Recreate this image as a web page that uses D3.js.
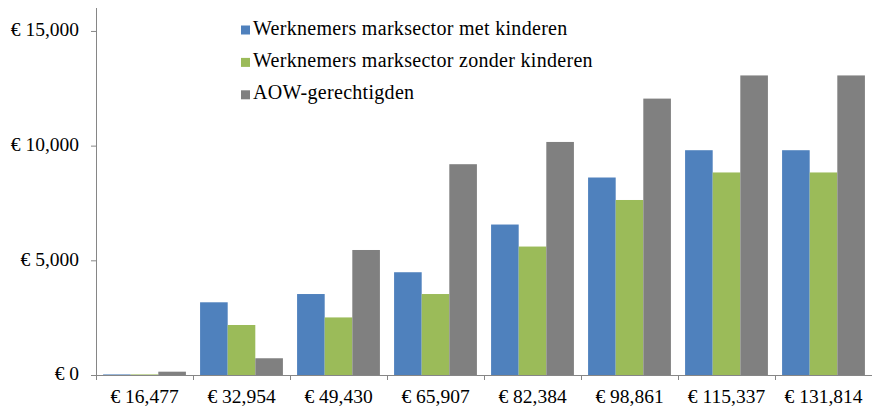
<!DOCTYPE html>
<html>
<head>
<meta charset="utf-8">
<script src="https://cdn.jsdelivr.net/npm/d3@7"></script>
</head>
<body style="margin:0">
<script>
// categories (income levels) and values per series
const categories = ['€ 16,477', '€ 32,954', '€ 49,430', '€ 65,907', '€ 82,384', '€ 98,861', '€ 115,337', '€ 131,814']
const seriesNames = ['Werknemers marksector met kinderen', 'Werknemers marksector zonder kinderen', 'AOW-gerechtigden']
const metKinderen = [25, 3170, 3530, 4480, 6560, 8610, 9800, 9800]
const zonderKinderen = [25, 2180, 2510, 3530, 5600, 7630, 8830, 8830]
const aow = [145, 730, 5450, 9190, 10160, 12050, 13060, 13060]
const yTicks = [0, 5000, 10000, 15000]
const colors = ['#4F81BD', '#9BBB59', '#808080']
const serifFont = '"Liberation Serif"'

const margin = { top: 8, right: 0, bottom: 33, left: 96 }
const width = 872 - margin.left - margin.right
const height = 408 - margin.top - margin.bottom

const svg = d3.select('body')
  .append('svg')
  .attr('width', 872)
  .attr('height', 408)
  .append('g')
  .attr('transform', `translate(${margin.left}, ${margin.top})`)

const x = d3.scaleBand()
  .domain(categories)
  .range([0, width])
  .paddingInner(0.146)
  .paddingOuter(0.073)

const x1 = d3.scaleBand()
  .domain(d3.range(3))
  .range([0, x.bandwidth()])

const y = d3.scaleLinear()
  .domain([0, 16000])
  .range([height, 0])

const data = categories.map((c, i) => ({ cat: c, vals: [metKinderen[i], zonderKinderen[i], aow[i]] }))

// bars
svg.append('g')
  .selectAll('g')
  .data(data)
  .join('g')
  .attr('transform', d => `translate(${x(d.cat)}, 0)`)
  .selectAll('rect')
  .data(d => d.vals.map((v, k) => ({ v, k })))
  .join('rect')
  .attr('x', d => x1(d.k))
  .attr('y', d => y(d.v))
  .attr('width', x1.bandwidth())
  .attr('height', d => height - y(d.v))
  .style('fill', d => colors[d.k])

// y axis
const yAxis = svg.append('g')
  .call(d3.axisLeft(y).tickValues(yTicks).tickSize(5).tickPadding(12)
    .tickFormat(d => '€ ' + d3.format(',')(d)))
  .attr('font-family', null)
  .attr('font-size', null)
yAxis.selectAll('text')
  .attr('dy', '0.25em')
  .style('font-size', '19.5px')
  .style('fill', '#000')

// x axis
const xAxis = svg.append('g')
  .attr('transform', `translate(0, ${height})`)
  .call(d3.axisBottom(x).tickSize(0).tickPadding(14))
  .attr('font-family', null)
  .attr('font-size', null)
xAxis.selectAll('text')
  .style('font-size', '19.5px')
  .style('fill', '#000')
xAxis.selectAll('.tick line').remove()

// category separator ticks
svg.append('g')
  .selectAll('line')
  .data(d3.range(categories.length + 1))
  .join('line')
  .attr('x1', i => Math.round(i * width / categories.length) + 0.5)
  .attr('x2', i => Math.round(i * width / categories.length) + 0.5)
  .attr('y1', height)
  .attr('y2', height + 5)
  .style('stroke', '#868686')

svg.selectAll('.domain, .tick line').style('stroke', '#868686')
xAxis.select('.domain').attr('d', `M0,0.5H${width}`)
yAxis.select('.domain').attr('d', `M0.5,0V${height}`)

// legend
const legend = svg.append('g')
  .attr('transform', 'translate(145, 22)')
legend.selectAll('g')
  .data(seriesNames)
  .join('g')
  .attr('transform', (d, i) => `translate(0, ${i * 32.4})`)
  .each(function (d, i) {
    const g = d3.select(this)
    g.append('rect')
      .attr('x', 0)
      .attr('y', -4.5)
      .attr('width', 9)
      .attr('height', 9)
      .style('fill', colors[i])
    g.append('text')
      .attr('x', 12)
      .attr('y', 4.5)
      .style('font-size', '20px')
      .style('letter-spacing', '0.3px')
      .style('fill', '#000')
      .text(d)
  })

// apply the serif font, and again once it has loaded
d3.selectAll('text').style('font-family', serifFont)
if (document.fonts && document.fonts.load) {
  document.fonts.load('20px ' + serifFont).then(() => {
    d3.selectAll('text').style('font-family', null).style('font-family', serifFont)
  })
}
</script>
</body>
</html>
